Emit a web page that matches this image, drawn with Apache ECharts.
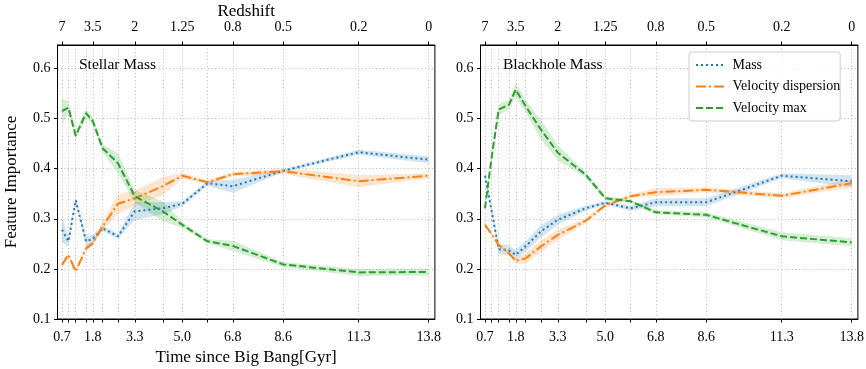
<!DOCTYPE html>
<html>
<head>
<meta charset="utf-8">
<script src="https://cdn.jsdelivr.net/npm/echarts@6/dist/echarts.min.js"></script>
<style>
  html, body { margin: 0; padding: 0; background: #fff; }
  #chart { width: 866px; height: 369px; }
</style>
</head>
<body>
<div id="chart"></div>
<script>
// snapshot times (Gyr) used for samples and vertical grid lines
const snapTimes = [0.7, 0.93, 1.19, 1.56, 1.8, 2.15, 2.7, 3.3, 4.3, 5.0, 5.9, 6.8, 8.6, 11.3, 13.8];
const timeTicks = [0.7, 1.8, 3.3, 5.0, 6.8, 8.6, 11.3, 13.8];
const redshiftTimes = [0.7, 1.8, 3.3, 5.0, 6.8, 8.6, 11.3, 13.8];
const redshiftLabels = ["7", "3.5", "2", "1.25", "0.8", "0.5", "0.2", "0"];
const yTicks = [0.1, 0.2, 0.3, 0.4, 0.5, 0.6];

// Stellar mass panel
const stellarMass = [0.278, 0.255, 0.337, 0.255, 0.26, 0.281, 0.265, 0.315, 0.321, 0.33, 0.371, 0.365, 0.396, 0.433, 0.418];
const stellarMassErr = [0.025, 0.01, 0.005, 0.01, 0.008, 0.005, 0.005, 0.018, 0.012, 0.005, 0.005, 0.013, 0.003, 0.005, 0.007];
const stellarVdisp = [0.208, 0.228, 0.195, 0.241, 0.251, 0.285, 0.33, 0.341, 0.365, 0.386, 0.373, 0.389, 0.395, 0.375, 0.386];
const stellarVdispErr = [0.005, 0.005, 0.005, 0.005, 0.005, 0.008, 0.02, 0.015, 0.018, 0.006, 0.004, 0.004, 0.006, 0.012, 0.005];
const stellarVmax = [0.515, 0.522, 0.466, 0.511, 0.495, 0.441, 0.411, 0.345, 0.315, 0.288, 0.255, 0.246, 0.209, 0.193, 0.194];
const stellarVmaxErr = [0.025, 0.012, 0.008, 0.008, 0.008, 0.008, 0.02, 0.012, 0.02, 0.006, 0.004, 0.01, 0.005, 0.007, 0.007];

// Blackhole mass panel
const bhMass = [0.386, 0.318, 0.239, 0.237, 0.228, 0.245, 0.275, 0.298, 0.321, 0.332, 0.321, 0.333, 0.333, 0.386, 0.375];
const bhMassErr = [0.005, 0.008, 0.01, 0.01, 0.01, 0.01, 0.012, 0.01, 0.005, 0.003, 0.005, 0.008, 0.008, 0.005, 0.012];
const bhVdisp = [0.288, 0.27, 0.248, 0.231, 0.216, 0.221, 0.245, 0.268, 0.296, 0.327, 0.345, 0.353, 0.358, 0.346, 0.371];
const bhVdispErr = [0.003, 0.003, 0.003, 0.004, 0.005, 0.01, 0.012, 0.01, 0.005, 0.004, 0.004, 0.008, 0.005, 0.005, 0.008];
const bhVmax = [0.321, 0.42, 0.518, 0.528, 0.558, 0.525, 0.478, 0.432, 0.388, 0.341, 0.335, 0.313, 0.308, 0.265, 0.253];
const bhVmaxErr = [0.005, 0.008, 0.01, 0.01, 0.015, 0.012, 0.02, 0.015, 0.005, 0.005, 0.003, 0.004, 0.005, 0.008, 0.008];

const FONT = "Liberation Serif";
const BLUE = "#1f77b4";
const ORANGE = "#ff7f0e";
const GREEN = "#2ca02c";
const X_MIN = 0.54;
const X_MAX = 14.02;

const chart = echarts.init(document.getElementById("chart"), null, { renderer: "canvas" });

// shaded band (custom polygon through the axis scales) + the line itself
function seriesFor(gi, name, values, errs, color, dash) {
  const bandData = snapTimes.map((t, i) => [t, values[i] - errs[i], values[i] + errs[i]]);
  return [
    {
      name: name + "-band-" + gi,
      type: "custom",
      xAxisIndex: gi * 2,
      yAxisIndex: gi,
      data: bandData,
      encode: { x: 0, y: [1, 2] },
      silent: true,
      z: 1,
      renderItem: (params, api) => {
        if (params.dataIndex !== 0) return;
        const upper = bandData.map((d) => api.coord([d[0], d[2]]));
        const lower = bandData.map((d) => api.coord([d[0], d[1]])).reverse();
        return {
          type: "polygon",
          shape: { points: upper.concat(lower) },
          style: { fill: color, opacity: 0.2 },
        };
      },
    },
    {
      name: name,
      type: "line",
      xAxisIndex: gi * 2,
      yAxisIndex: gi,
      data: snapTimes.map((t, i) => [t, values[i]]),
      symbol: "none",
      lineStyle: { color: color, width: 2, type: dash },
      itemStyle: { color: color },
      z: 3,
    },
  ];
}

const gridLine = { show: true, lineStyle: { color: "#b8b8b8", width: 1, type: [1, 2.5] } };

function bottomAxis(gi, withName) {
  return {
    type: "value",
    gridIndex: gi,
    position: "bottom",
    min: X_MIN,
    max: X_MAX,
    name: withName ? "Time since Big Bang[Gyr]" : "",
    nameLocation: "middle",
    nameGap: 30,
    nameMoveOverlap: false,
    nameTextStyle: { fontFamily: FONT, fontSize: 17, color: "#000" },
    axisLine: { show: true, onZero: false, lineStyle: { color: "#000", width: 1 } },
    axisTick: { show: true, length: 3.5, inside: false, customValues: snapTimes, lineStyle: { color: "#000" } },
    axisLabel: {
      customValues: timeTicks,
      margin: 11,
      fontFamily: FONT,
      fontSize: 14,
      color: "#000",
      formatter: (v) => v.toFixed(1),
    },
    splitLine: gridLine,
  };
}

function topAxis(gi, withName) {
  return {
    type: "value",
    gridIndex: gi,
    position: "top",
    min: X_MIN,
    max: X_MAX,
    name: withName ? "Redshift" : "",
    nameLocation: "middle",
    nameGap: 25,
    nameMoveOverlap: false,
    nameTextStyle: { fontFamily: FONT, fontSize: 17, color: "#000" },
    axisLine: { show: true, onZero: false, lineStyle: { color: "#000", width: 1 } },
    axisTick: { show: true, length: 3.5, customValues: redshiftTimes, lineStyle: { color: "#000" } },
    axisLabel: {
      customValues: redshiftTimes,
      margin: 11,
      fontFamily: FONT,
      fontSize: 14,
      color: "#000",
      formatter: (v) => {
        const i = redshiftTimes.findIndex((t) => Math.abs(t - v) < 1e-6);
        return i >= 0 ? redshiftLabels[i] : "";
      },
    },
    splitLine: { show: false },
  };
}

function leftAxis(gi, withName) {
  return {
    type: "value",
    gridIndex: gi,
    min: 0.1,
    max: 0.647,
    name: withName ? "Feature Importance" : "",
    nameLocation: "middle",
    nameGap: 37,
    nameMoveOverlap: false,
    nameTextStyle: { fontFamily: FONT, fontSize: 17, color: "#000" },
    axisLine: { show: true, onZero: false, lineStyle: { color: "#000", width: 1 } },
    axisTick: { show: true, length: 3.5, customValues: yTicks, lineStyle: { color: "#000" } },
    axisLabel: {
      customValues: yTicks,
      margin: 7,
      fontFamily: FONT,
      fontSize: 14,
      color: "#000",
      formatter: (v) => v.toFixed(1),
    },
    splitLine: gridLine,
  };
}

const gridBase = {
  top: 45,
  bottom: 50,
  show: true,
  borderColor: "#000",
  borderWidth: 1,
  backgroundColor: "transparent",
  containLabel: false,
  outerBoundsMode: "none",
};

const option = {
  animation: false,
  backgroundColor: "#fff",
  title: [
    { text: "Stellar Mass", left: 79, top: 57, padding: 0, textStyle: { fontFamily: FONT, fontSize: 15.5, fontWeight: "normal", color: "#000" } },
    { text: "Blackhole Mass", left: 503, top: 57, padding: 0, textStyle: { fontFamily: FONT, fontSize: 15.5, fontWeight: "normal", color: "#000" } },
  ],
  legend: {
    data: ["Mass", "Velocity dispersion", "Velocity max"],
    orient: "vertical",
    left: 689,
    top: 52,
    padding: [6, 0, 6, 6],
    itemWidth: 28,
    itemHeight: 14,
    itemGap: 7.5,
    itemStyle: { opacity: 0 },
    formatter: (name) => " " + name,
    backgroundColor: "rgba(255,255,255,0.8)",
    borderColor: "#cccccc",
    borderWidth: 1,
    borderRadius: 3,
    textStyle: { fontFamily: FONT, fontSize: 14, color: "#000" },
  },
  grid: [
    Object.assign({ left: 57.5, width: 377.4 }, gridBase),
    Object.assign({ left: 480.5, width: 377.4 }, gridBase),
  ],
  xAxis: [bottomAxis(0, true), topAxis(0, true), bottomAxis(1, false), topAxis(1, false)],
  yAxis: [leftAxis(0, true), leftAxis(1, false)],
  series: [
    ...seriesFor(0, "Mass", stellarMass, stellarMassErr, BLUE, [2, 3]),
    ...seriesFor(0, "Velocity dispersion", stellarVdisp, stellarVdispErr, ORANGE, [10, 3, 2, 3]),
    ...seriesFor(0, "Velocity max", stellarVmax, stellarVmaxErr, GREEN, [7, 3]),
    ...seriesFor(1, "Mass", bhMass, bhMassErr, BLUE, [2, 3]),
    ...seriesFor(1, "Velocity dispersion", bhVdisp, bhVdispErr, ORANGE, [10, 3, 2, 3]),
    ...seriesFor(1, "Velocity max", bhVmax, bhVmaxErr, GREEN, [7, 3]),
  ],
};

chart.setOption(option);
</script>
</body>
</html>
